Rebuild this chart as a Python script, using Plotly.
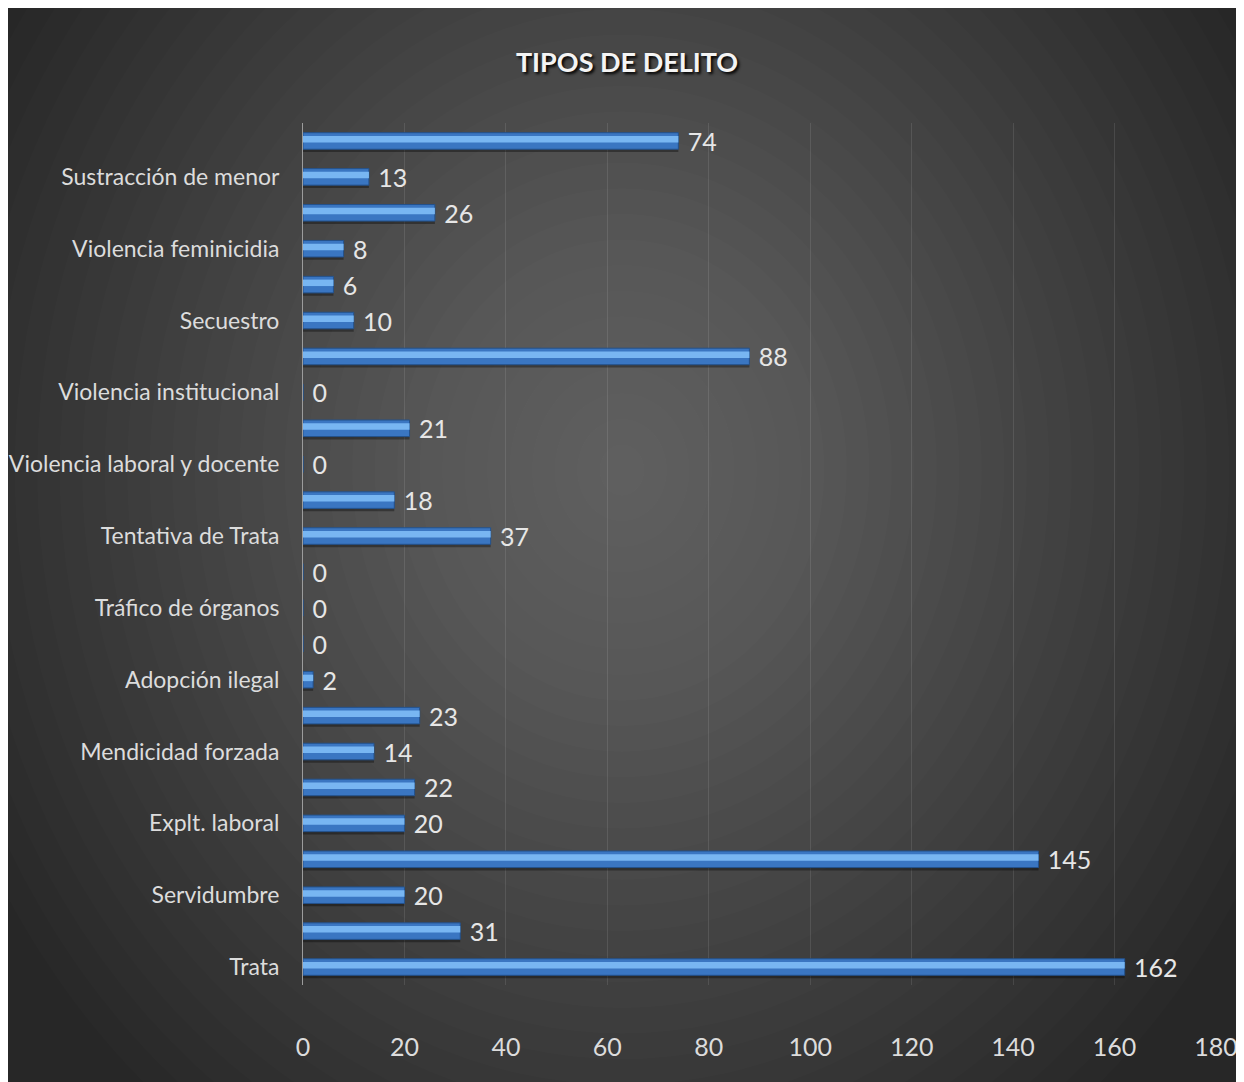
import plotly.graph_objects as go

# Data (bottom to top)
labels = ["Trata", "", "Servidumbre", "", "Explt. laboral", "", "Mendicidad forzada", "",
          "Adopción ilegal", "", "Tráfico de órganos", "", "Tentativa de Trata", "",
          "Violencia laboral y docente", "", "Violencia institucional", "", "Secuestro", "",
          "Violencia feminicidia", "", "Sustracción de menor", ""]
values = [162, 31, 20, 145, 20, 22, 14, 23, 2, 0, 0, 0, 37, 18, 0, 21, 0, 88, 10, 6, 8, 26, 13, 74]
x_ticks = [0, 20, 40, 60, 80, 100, 120, 140, 160, 180]

positions = list(range(len(values)))
tickvals = [p for p, l in zip(positions, labels) if l]
ticktext = [l for l in labels if l]

W, H = 1236, 1074
ML, MR, MT, MB = 295, 28, 115, 97
PW, PH = W - ML - MR, H - MT - MB

def px_to_paper(px, py):
    return (px - ML) / PW, (H - MB - py) / PH

FONT = "Lato, Roboto, sans-serif"

fig = go.Figure()

# shadow
fig.add_trace(go.Bar(x=values, y=positions, orientation="h", width=0.46, offset=-0.31,
                     marker=dict(color="rgba(0,0,0,0.35)", line=dict(width=0)),
                     hoverinfo="skip", showlegend=False))
# main bar
fig.add_trace(go.Bar(x=values, y=positions, orientation="h", width=0.46, offset=-0.23,
                     marker=dict(color="#3a76c2", line=dict(color="#24528c", width=1)),
                     texttemplate="\u00a0%{x}", textposition="outside",
                     constraintext="none", cliponaxis=False,
                     textfont=dict(family=FONT, size=25, color="#e6e6e6"),
                     showlegend=False))
# highlight
fig.add_trace(go.Bar(x=values, y=positions, orientation="h", width=0.18, offset=-0.04,
                     marker=dict(color="#78b6f2", line=dict(width=0)),
                     hoverinfo="skip", showlegend=False))

# background: radial-ish gradient via stacked ellipses
shapes = []
cx, cy = 614, 462
n = 32
for i in range(n):
    f = 1 - i / n
    rx, ry = 720 * f, 820 * f
    ax0, ay1 = px_to_paper(cx - rx, cy - ry)
    ax1, ay0 = px_to_paper(cx + rx, cy + ry)
    shapes.append(dict(type="circle", xref="paper", yref="paper", x0=ax0, x1=ax1, y0=ay0, y1=ay1,
                       fillcolor="rgba(255,255,255,0.0105)", line=dict(width=0), layer="below"))

fig.update_layout(
    width=W, height=H,
    margin=dict(l=ML, r=MR, t=MT, b=MB, autoexpand=False),
    paper_bgcolor="#272727",
    plot_bgcolor="rgba(0,0,0,0)",
    barmode="overlay",
    shapes=shapes,
    title=dict(text="<b>TIPOS DE DELITO</b>", x=(619 - ML) / PW, xref="paper", xanchor="center",
               y=1 - 55 / H, yref="container", yanchor="middle",
               font=dict(family=FONT, size=27, color="#f4f4f4", shadow="2px 2px 3px #000")),
    xaxis=dict(range=[0, 180], tickvals=x_ticks, showgrid=True, automargin=False,
               gridcolor="rgba(255,255,255,0.10)", gridwidth=1, zeroline=False,
               ticks="outside", ticklen=40, tickcolor="rgba(0,0,0,0)",
               tickfont=dict(family=FONT, size=25, color="#dcdcdc"), showline=False),
    yaxis=dict(range=[-0.5, len(values) - 0.5], tickvals=tickvals, ticktext=ticktext,
               automargin=False,
               showgrid=False, zeroline=False, showline=True, linecolor="#9c9c9c", linewidth=1,
               ticks="outside", ticklen=18, tickcolor="rgba(0,0,0,0)",
               tickfont=dict(family=FONT, size=23, color="#dcdcdc")),
)

fig.write_html("out.html")
